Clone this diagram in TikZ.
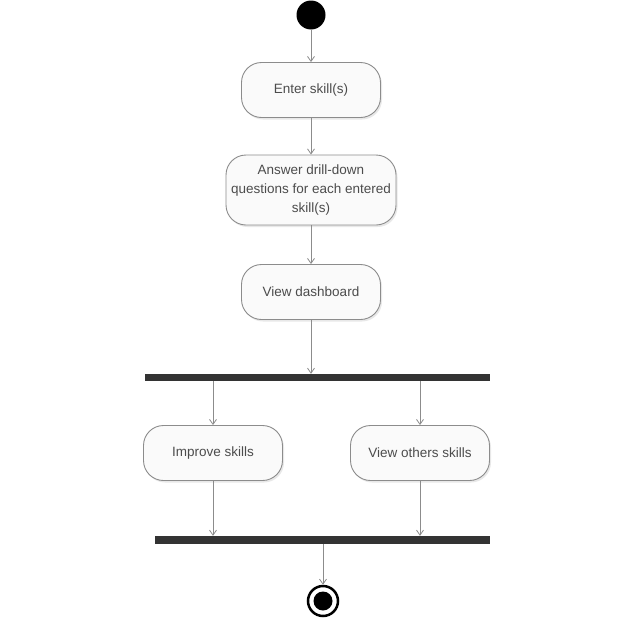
\documentclass[tikz,border=0pt]{standalone}
\usepackage{fontspec}
\setmainfont{Liberation Sans}
\usetikzlibrary{arrows.meta,shadows}
\begin{document}
\begin{tikzpicture}[x=1pt,y=-1pt,
  action/.style={draw=black!45, line width=0.9pt, fill=black!2, rounded corners=20pt,
    minimum width=139pt, minimum height=55pt, align=center, text=black!70,
    font=\fontsize{13.5}{19}\selectfont, inner sep=1pt,
    drop shadow={opacity=0.18, shadow xshift=1.5pt, shadow yshift=-2pt}},
  bar/.style={fill=black!80, draw=none, inner sep=0pt},
  flow/.style={draw=black!45, line width=0.8pt, -{Straight Barb[length=5pt,width=7pt]}}]
\useasboundingbox (0,0) rectangle (640,640);
\fill[white] (0,0) rectangle (640,640);
% initial node
\node[circle, fill=black, minimum size=29pt, inner sep=0pt] (start) at (311,15) {};
% actions
\node[action] (enter) at (311,90) {Enter skill(s)};
\node[action, minimum width=170pt, minimum height=70pt] (answer) at (311,190)
  {Answer drill-down\\questions for each entered\\skill(s)};
\node[action] (dash) at (311,292) {View dashboard};
% fork and join bars
\node[bar, minimum width=345pt, minimum height=7pt] (fork) at (317.5,377.5) {};
\node[action] (improve) at (213,453) {Improve skills};
\node[action] (others) at (420,453) {View others skills};
\node[bar, minimum width=335pt, minimum height=8pt] (join) at (322.5,540) {};
% final node
\node[circle, draw=black, line width=2.5pt, fill=white, minimum size=30pt, inner sep=0pt] (end) at (323,601) {};
\fill[black] (end.center) circle (9.5pt);
% flows
\draw[flow] (start) -- (enter);
\draw[flow] (enter) -- (answer);
\draw[flow] (answer) -- (dash);
\draw[flow] (dash.south) -- (dash.south |- fork.north);
\draw[flow] (fork.south -| improve) -- (improve);
\draw[flow] (fork.south -| others) -- (others);
\draw[flow] (improve) -- (join.north -| improve);
\draw[flow] (others) -- (join.north -| others);
\draw[flow] (join.south -| end) -- (end);
\end{tikzpicture}
\end{document}
